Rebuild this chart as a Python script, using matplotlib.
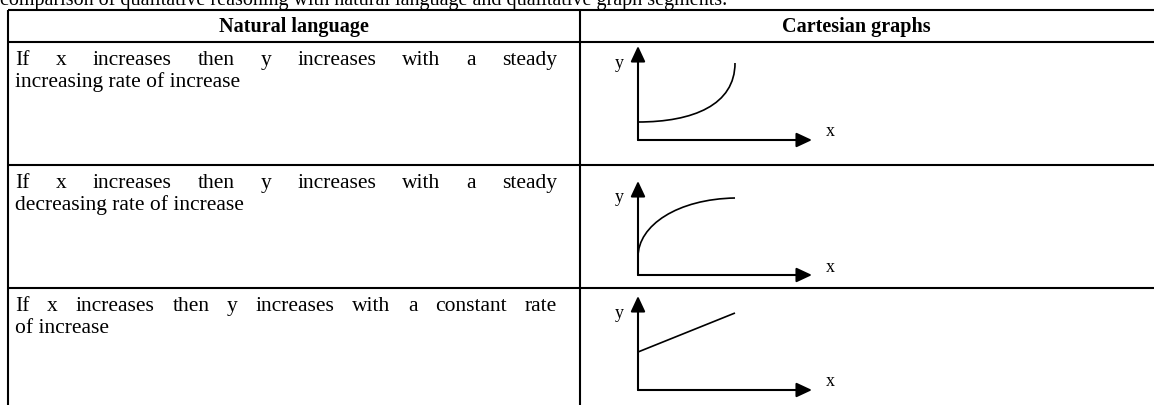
import matplotlib

matplotlib.use("Agg")
import matplotlib.pyplot as plt
from matplotlib.path import Path
from matplotlib.patches import PathPatch
from matplotlib.transforms import Affine2D

plt.rcParams["font.family"] = ["Liberation Serif", "DejaVu Serif"]

# table content
caption = "comparison of qualitative reasoning with natural language and qualitative graph segments."
headers = ["Natural language", "Cartesian graphs"]
row_lines = [
    ["If x increases then y increases with a steady", "increasing rate of increase"],
    ["If x increases then y increases with a steady", "decreasing rate of increase"],
    ["If x increases then y increases with a constant rate", "of increase"],
]

# sketch curves (local px units: x right of y-axis, y above x-axis)
curve_x = [[0, 55, 97, 97], [0, 0, 40, 97], [0, 97]]
curve_y = [[18, 18, 35, 77], [18, 50, 76, 77], [38, 77]]
axis_len_x = 174
axis_len_y = 94

W, H = 1154, 405
fig = plt.figure(figsize=(W / 100, H / 100), dpi=100)
ax = fig.add_axes([0, 0, 1, 1])
ax.set_xlim(0, W)
ax.set_ylim(H, 0)
ax.axis("off")

lw = 1.5
left, mid, right = 8, 580, 1160
row_y = [10, 42, 165, 288, 410]

for y in row_y[:-1]:
    ax.plot([left, right], [y, y], color="black", lw=lw, solid_capstyle="butt")
for x in (left, mid):
    ax.plot([x, x], [row_y[0], row_y[-1]], color="black", lw=lw, solid_capstyle="butt")

fs = 15.5
ax.text(0, 5, caption, fontsize=14.5, va="baseline", ha="left")
ax.text(294, 27, headers[0], fontsize=14.5, fontweight="bold", ha="center", va="center")
ax.text(856, 27, headers[1], fontsize=14.5, fontweight="bold", ha="center", va="center")

renderer = fig.canvas.get_renderer()
inv = ax.transData.inverted()


def word_width(word):
    t = ax.text(0, 0, word, fontsize=fs)
    bb = t.get_window_extent(renderer)
    t.remove()
    x0 = inv.transform((bb.x0, 0))[0]
    x1 = inv.transform((bb.x1, 0))[0]
    return x1 - x0


# first line of each cell is justified between these edges
text_l, text_r = 15, 557
line_gap = 22
for i, lines in enumerate(row_lines):
    top = row_y[i + 1]
    for j, line in enumerate(lines):
        yb = top + 23 + j * line_gap
        if j == 0:
            words = line.split()
            widths = [word_width(w) for w in words]
            gap = (text_r - text_l - sum(widths)) / (len(words) - 1)
            x = text_l
            for w, ww in zip(words, widths):
                ax.text(x, yb, w, fontsize=fs, va="baseline", ha="left")
                x += ww + gap
        else:
            ax.text(text_l, yb, line, fontsize=fs, va="baseline", ha="left")

origins = [(638, 140), (638, 275), (638, 390)]
arrow = dict(arrowstyle="-|>,head_length=0.47,head_width=0.22", lw=lw, color="black",
             shrinkA=0, shrinkB=0, mutation_scale=20)
for (ox, oy), cx, cy in zip(origins, curve_x, curve_y):
    tr = Affine2D().scale(1, -1).translate(ox, oy) + ax.transData
    ax.annotate("", xy=(axis_len_x, 0), xytext=(0, 0), xycoords=tr, textcoords=tr, arrowprops=arrow)
    ax.annotate("", xy=(0, axis_len_y), xytext=(0, 0), xycoords=tr, textcoords=tr, arrowprops=arrow)
    verts = list(zip(cx, cy))
    if len(verts) == 4:
        codes = [Path.MOVETO, Path.CURVE4, Path.CURVE4, Path.CURVE4]
    else:
        codes = [Path.MOVETO, Path.LINETO]
    ax.add_patch(PathPatch(Path(verts, codes), fill=False, lw=1.2, color="black", transform=tr))
    ax.text(-19, 77, "y", fontsize=13, ha="center", va="center", transform=tr)
    ax.text(192, 8, "x", fontsize=13, ha="center", va="center", transform=tr)

fig.savefig("out.png", dpi=100)
